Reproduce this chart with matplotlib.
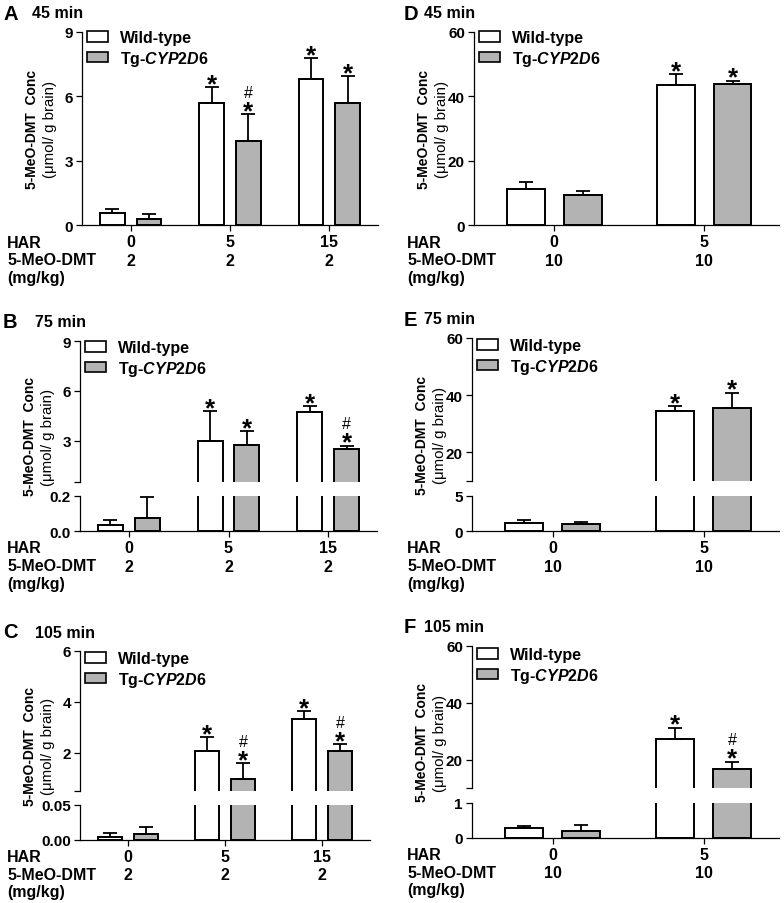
import numpy as np
import matplotlib.pyplot as plt
from matplotlib.patches import Patch
from matplotlib.ticker import FixedLocator

plt.rcParams['font.family'] = ['Liberation Sans', 'DejaVu Sans']
plt.rcParams['font.weight'] = 'bold'
plt.rcParams['mathtext.fontset'] = 'custom'
plt.rcParams['mathtext.it'] = 'Liberation Sans:italic:bold'
plt.rcParams['mathtext.rm'] = 'Liberation Sans:bold'

# data (mean, +SEM)
har_left = ['0', '5', '15']
dmt_left = ['2', '2', '2']
har_right = ['0', '5']
dmt_right = ['10', '10']

# A - 45 min, 2 mg/kg
wt_A = [0.58, 5.68, 6.80]
wt_A_err = [0.17, 0.74, 1.00]
tg_A = [0.27, 3.94, 5.70]
tg_A_err = [0.24, 1.23, 1.25]
sig_wt_A = ['', '*', '*']
sig_tg_A = ['', '#*', '*']

# B - 75 min, 2 mg/kg
wt_B = [0.034, 2.96, 4.70]
wt_B_err = [0.029, 1.82, 0.39]
tg_B = [0.076, 2.76, 2.47]
tg_B_err = [0.118, 0.81, 0.23]
sig_wt_B = ['', '*', '*']
sig_tg_B = ['', '*', '#*']

# C - 105 min, 2 mg/kg
wt_C = [0.0048, 2.07, 3.34]
wt_C_err = [0.0052, 0.56, 0.31]
tg_C = [0.0091, 0.97, 2.08]
tg_C_err = [0.0099, 0.62, 0.25]
sig_wt_C = ['', '*', '*']
sig_tg_C = ['', '#*', '#*']

# D - 45 min, 10 mg/kg
wt_D = [11.1, 43.6]
wt_D_err = [2.2, 3.3]
tg_D = [9.45, 43.8]
tg_D_err = [1.25, 1.1]
sig_wt_D = ['', '*']
sig_tg_D = ['', '*']

# E - 75 min, 10 mg/kg
wt_E = [1.12, 34.5]
wt_E_err = [0.47, 1.6]
tg_E = [1.03, 35.4]
tg_E_err = [0.28, 5.5]
sig_wt_E = ['', '*']
sig_tg_E = ['', '*']

# F - 105 min, 10 mg/kg
wt_F = [0.276, 27.4]
wt_F_err = [0.067, 3.9]
tg_F = [0.20, 16.7]
tg_F_err = [0.16, 2.6]
sig_wt_F = ['', '*']
sig_tg_F = ['', '#*']

W, H = 784, 904
GRAY = '#b3b3b3'
FS = 11.5

fig = plt.figure(figsize=(W / 100, H / 100), dpi=100)


def rect(x0, x1, y0, y1):
    return [x0 / W, 1 - y1 / H, (x1 - x0) / W, (y1 - y0) / H]


def ftext(x, y, s, **kw):
    fig.text(x / W, 1 - y / H, s, **kw)


def mark(ax, x, ytop, s):
    if '*' in s:
        ax.annotate('*', (x, ytop), xytext=(0, -3), textcoords='offset points',
                    ha='center', va='baseline', fontsize=18.5, fontweight='bold',
                    annotation_clip=False)
    if '#' in s:
        ax.annotate('#', (x, ytop), xytext=(0, 12.5), textcoords='offset points',
                    ha='center', va='baseline', fontsize=11.5, fontweight='normal',
                    annotation_clip=False)


def draw_panel(letter, time, xpx, segs, xlim, width, off, har, dmt,
               wt, wt_err, tg, tg_err, sig_wt, sig_tg, label_x, letter_x, time_x, leg_y):
    x = np.arange(len(wt))
    axes = []
    for i, (y0, y1, ylim, ticks, labels) in enumerate(segs):
        ax = fig.add_axes(rect(xpx[0], xpx[1], y0, y1))
        ax.bar(x - off, wt, width, color='white', edgecolor='k', linewidth=1.4, zorder=2)
        ax.bar(x + off, tg, width, color=GRAY, edgecolor='k', linewidth=1.4, zorder=2)
        ax.errorbar(x - off, wt, yerr=[np.zeros(len(wt)), wt_err], fmt='none',
                    ecolor='k', elinewidth=1.3, capsize=5, capthick=1.3, zorder=3)
        ax.errorbar(x + off, tg, yerr=[np.zeros(len(tg)), tg_err], fmt='none',
                    ecolor='k', elinewidth=1.3, capsize=5, capthick=1.3, zorder=3)
        ax.set_xlim(*xlim)
        ax.set_ylim(*ylim)
        ax.set_yticks(ticks)
        ax.set_yticklabels(labels)
        ax.spines['right'].set_visible(False)
        ax.spines['top'].set_visible(False)
        for sp in ('left', 'bottom'):
            ax.spines[sp].set_linewidth(0.9)
        ax.tick_params(axis='y', direction='out', length=4, width=0.9, pad=2.5, labelsize=11)
        ax.set_xticks(x)
        ax.tick_params(axis='x', direction='out', length=4, width=0.9, labelbottom=False)
        last = i == len(segs) - 1
        if not last:
            ax.spines['bottom'].set_visible(False)
            ax.tick_params(axis='x', length=0)
            ax.yaxis.set_minor_locator(FixedLocator([ylim[0]]))
            ax.tick_params(axis='y', which='minor', direction='out', length=4, width=0.9)
        for xi, v, e, s in zip(x - off, wt, wt_err, sig_wt):
            if s and ylim[0] <= v + e <= ylim[1]:
                mark(ax, xi, v + e, s)
        for xi, v, e, s in zip(x + off, tg, tg_err, sig_tg):
            if s and ylim[0] <= v + e <= ylim[1]:
                mark(ax, xi, v + e, s)
        axes.append(ax)

    top, bottom = axes[0], axes[-1]
    handles = [Patch(facecolor='white', edgecolor='k', linewidth=1.2),
               Patch(facecolor=GRAY, edgecolor='k', linewidth=1.2)]
    top.legend(handles, ['Wild-type', 'Tg-$\\mathit{CYP2D6}$'], loc='upper left',
               bbox_to_anchor=((xpx[0] + 5) / W, 1 - leg_y / H),
               bbox_transform=fig.transFigure, frameon=False, fontsize=FS,
               handlelength=1.3, handleheight=0.65, handletextpad=0.75,
               labelspacing=0.22, borderpad=0, borderaxespad=0)

    # category rows under the axis
    for xi, h, d in zip(x, har, dmt):
        bottom.annotate(h, (xi, 0), xycoords=('data', 'axes fraction'),
                        xytext=(0, -12.2), textcoords='offset points',
                        ha='center', va='center', fontsize=FS)
        bottom.annotate(d, (xi, 0), xycoords=('data', 'axes fraction'),
                        xytext=(0, -25.2), textcoords='offset points',
                        ha='center', va='center', fontsize=FS)
    ybot = segs[-1][1]
    ftext(label_x, ybot + 17, 'HAR', ha='left', va='center', fontsize=FS)
    ftext(label_x, ybot + 35, '5-MeO-DMT', ha='left', va='center', fontsize=FS)
    ftext(label_x, ybot + 52, '(mg/kg)', ha='left', va='center', fontsize=FS)

    # y label
    ymid = (segs[0][0] + segs[-1][1]) / 2
    ftext(xpx[0] - 50, ymid, '5-MeO-DMT  Conc', rotation=90, ha='center',
          va='center', fontsize=10)
    ftext(xpx[0] - 32, ymid, '(\u03bcmol/ g brain)', rotation=90, ha='center',
          va='center', fontsize=10.8, fontweight='normal')

    # panel letter and time
    ftext(letter_x, segs[0][0] - 19, letter, ha='left', va='center', fontsize=14.5)
    ftext(time_x, segs[0][0] - 19, time, ha='left', va='center', fontsize=FS)


left_xlim = (-0.49, 2.49)
right_xlim = (-0.535, 1.5)

draw_panel('A', '45 min', (82, 378),
           [(33, 226, (0, 9), [0, 3, 6, 9], ['0', '3', '6', '9'])],
           left_xlim, 0.25, 0.185, har_left, dmt_left,
           wt_A, wt_A_err, tg_A, tg_A_err, sig_wt_A, sig_tg_A, 7, 3, 32, 31)

draw_panel('B', '75 min', (80, 377),
           [(342, 483, (0.5, 9), [3, 6, 9], ['3', '6', '9']),
            (497, 532, (0, 0.2), [0, 0.2], ['0.0', '0.2'])],
           left_xlim, 0.25, 0.185, har_left, dmt_left,
           wt_B, wt_B_err, tg_B, tg_B_err, sig_wt_B, sig_tg_B, 7, 3, 35, 341)

draw_panel('C', '105 min', (80, 370),
           [(652, 792, (0.5, 6), [2, 4, 6], ['2', '4', '6']),
            (806, 841, (0, 0.05), [0, 0.05], ['0.00', '0.05'])],
           left_xlim, 0.25, 0.185, har_left, dmt_left,
           wt_C, wt_C_err, tg_C, tg_C_err, sig_wt_C, sig_tg_C, 7, 3, 35, 652)

draw_panel('D', '45 min', (474, 779),
           [(33, 226, (0, 60), [0, 20, 40, 60], ['0', '20', '40', '60'])],
           right_xlim, 0.253, 0.19, har_right, dmt_right,
           wt_D, wt_D_err, tg_D, tg_D_err, sig_wt_D, sig_tg_D, 407, 404, 424, 31)

draw_panel('E', '75 min', (472, 779),
           [(339, 482, (10, 60), [20, 40, 60], ['20', '40', '60']),
            (497, 532, (0, 5), [0, 5], ['0', '5'])],
           right_xlim, 0.253, 0.19, har_right, dmt_right,
           wt_E, wt_E_err, tg_E, tg_E_err, sig_wt_E, sig_tg_E, 407, 404, 424, 339)

draw_panel('F', '105 min', (472, 779),
           [(647, 789, (10, 60), [20, 40, 60], ['20', '40', '60']),
            (804, 839, (0, 1), [0, 1], ['0', '1'])],
           right_xlim, 0.253, 0.19, har_right, dmt_right,
           wt_F, wt_F_err, tg_F, tg_F_err, sig_wt_F, sig_tg_F, 407, 404, 424, 648)

fig.savefig('out.png', dpi=100)
